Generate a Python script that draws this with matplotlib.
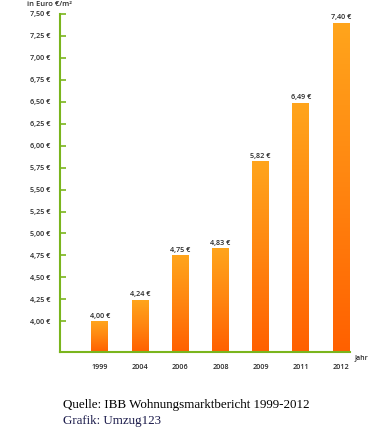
import numpy as np
import matplotlib.pyplot as plt
from matplotlib.colors import LinearSegmentedColormap

years = ["1999", "2004", "2006", "2008", "2009", "2011", "2012"]
rent = [4.00, 4.24, 4.75, 4.83, 5.82, 6.49, 7.40]
yticks = [4.00, 4.25, 4.50, 4.75, 5.00, 5.25, 5.50, 5.75, 6.00, 6.25, 6.50, 6.75, 7.00, 7.25, 7.50]

plt.rcParams['font.family'] = ['Open Sans', 'DejaVu Sans']
green = "#7ab51d"
txt = "#2a2a2a"
cmap = LinearSegmentedColormap.from_list("orng", ["#ff6000", "#ff8510", "#ffa51c"])

fig = plt.figure(figsize=(3.8, 4.29), dpi=100)
ax = fig.add_axes([0.158, 0.1795, 0.763, 0.7879])

x = np.arange(len(years))
bars = ax.bar(x, rent, width=0.42, bottom=0, color="none", edgecolor="none")
ybot = 3.65
ax.set_ylim(ybot, 7.5)
ax.set_xlim(-0.99, 6.22)

grad = np.linspace(0, 1, 256).reshape(-1, 1)
for b, v in zip(bars, rent):
    x0 = b.get_x()
    im = ax.imshow(grad, cmap=cmap, origin="lower", aspect="auto",
                   extent=[x0, x0 + b.get_width(), ybot, v], zorder=2)
    im.set_clip_path(b)
    ax.text(b.get_x() + b.get_width() / 2, v + 0.02, f"{v:.2f} €".replace(".", ","),
            ha="center", va="bottom", fontsize=5.2, color=txt, fontweight="semibold")

ax.set_yticks(yticks)
ax.set_yticklabels([f"{t:.2f} €".replace(".", ",") for t in yticks], fontsize=5.2,
                   color=txt, fontweight="semibold")
ax.tick_params(axis="y", direction="in", length=4, width=1.2, color=green, pad=7)
ax.set_xticks(x)
ax.set_xticklabels(years, fontsize=5.2, color=txt, fontweight="semibold")
ax.tick_params(axis="x", length=0, pad=9)

for s in ["top", "right"]:
    ax.spines[s].set_visible(False)
for s in ["left", "bottom"]:
    ax.spines[s].set_color(green)
    ax.spines[s].set_linewidth(1.5)

fig.text(27 / 380, 1 - 5 / 429, "in Euro €/m²", fontsize=5.4, color=txt, va="center", ha="left",
         fontweight="semibold")
fig.text(355 / 380, 1 - 358 / 429, "Jahr", fontsize=5, color=txt, va="center", ha="left",
         fontweight="semibold")

fig.text(63 / 380, 1 - 405 / 429, "Quelle: IBB Wohnungsmarktbericht 1999-2012",
         fontsize=9.4, family="Liberation Serif", color="black", va="center")
fig.text(63 / 380, 1 - 421 / 429, "Grafik: Umzug123",
         fontsize=9.4, family="Liberation Serif", color="#1a1a4a", va="center")

fig.savefig("out.png", dpi=100)
